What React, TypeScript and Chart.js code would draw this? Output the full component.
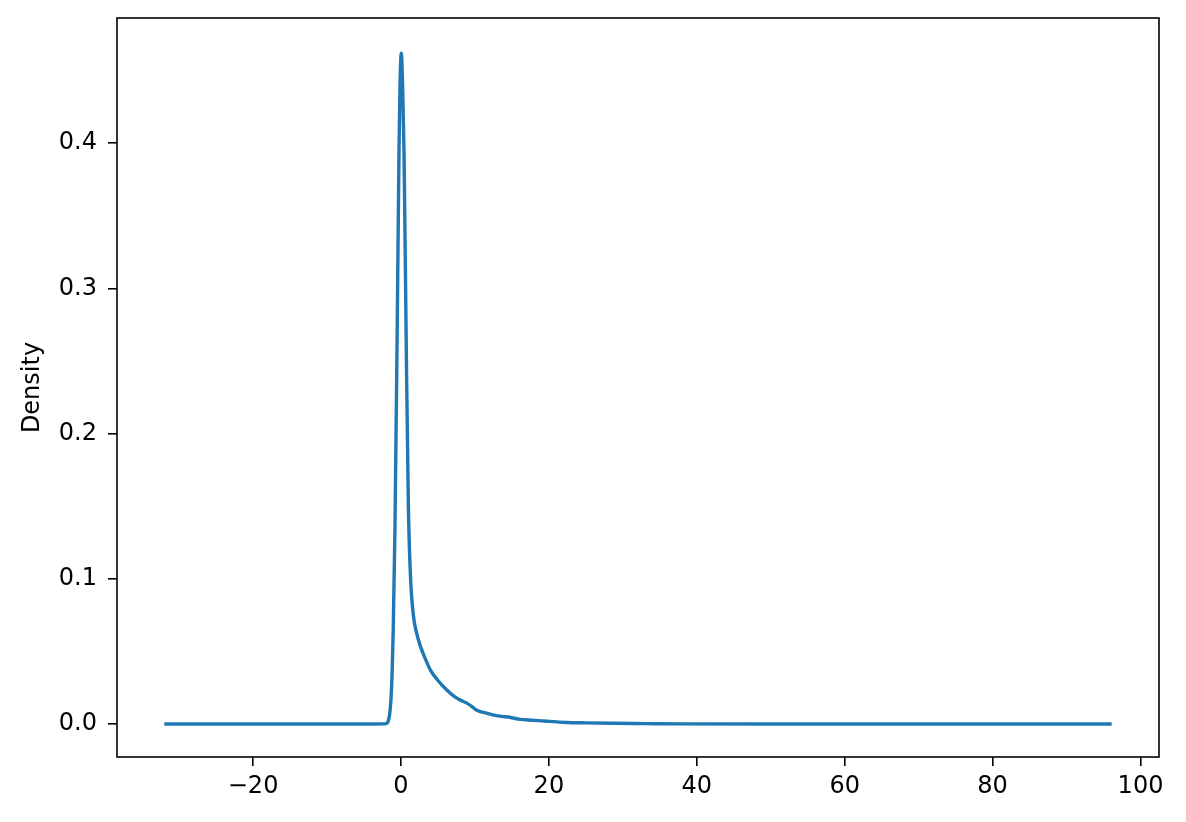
import React, { useEffect, useRef } from "react";
import { Chart, registerables } from "chart.js";

Chart.register(...registerables);

const densityX = [
  -32.0, -10, -4, -2.4, -2.0, -1.77, -1.55, -1.36, -1.2, -1.05, -0.82, -0.54, -0.27, -0.13, 0.04, 0.22,
  0.41, 0.72, 1.0, 1.3, 1.7, 2.1, 2.6, 3.2, 4.0, 5.0, 6.2, 7.2, 8.0, 8.9, 9.6, 10.2, 11.3, 12.4, 13.6,
  14.7, 16.1, 17.8, 19.7, 22.4, 25, 28.6, 33, 38, 50, 70, 96.1,
];
const densityY = [
  0, 0, 0, 0.0001, 0.0004, 0.0014, 0.006, 0.0165, 0.035, 0.0646, 0.133, 0.257, 0.394, 0.44, 0.462, 0.44,
  0.394, 0.257, 0.15, 0.1, 0.074, 0.063, 0.054, 0.046, 0.037, 0.03, 0.0234, 0.019, 0.0165, 0.0144,
  0.012, 0.0096, 0.0078, 0.0063, 0.0053, 0.0047, 0.0032, 0.0026, 0.0019, 0.0011, 0.0008, 0.0005, 0.0003,
  0.0001, 0.00003, 0, 0,
];
const xTicks = [-20, 0, 20, 40, 60, 80, 100];
const yTicks = [0, 0.1, 0.2, 0.3, 0.4];
const yLabel = "Density";

const FONT = "'DejaVu Sans', sans-serif";

export default function App() {
  const ref = useRef<HTMLCanvasElement | null>(null);
  useEffect(() => {
    if (!ref.current) return;
    const spines = {
      id: "spines",
      afterDatasetsDraw(chart: any) {
        const { ctx, chartArea } = chart;
        ctx.save();
        ctx.strokeStyle = "#000";
        ctx.lineWidth = 1.6;
        ctx.strokeRect(chartArea.left, chartArea.top, chartArea.right - chartArea.left, chartArea.bottom - chartArea.top);
        ctx.restore();
      },
    };
    const chart = new Chart(ref.current, {
      type: "line",
      data: {
        datasets: [
          {
            data: densityX.map((x, i) => ({ x, y: densityY[i] })),
            borderColor: "#1f77b4",
            borderWidth: 3.4,
            pointRadius: 0,
            fill: false,
            cubicInterpolationMode: "monotone",
          },
        ],
      },
      options: {
        animation: false,
        responsive: false,
        events: [],
        layout: { padding: { left: 0, top: 18, right: 27, bottom: 0 } },
        plugins: { legend: { display: false }, tooltip: { enabled: false } },
        scales: {
          x: {
            type: "linear",
            min: -38.4,
            max: 102.5,
            afterBuildTicks: (s: any) => {
              s.ticks = xTicks.map((v) => ({ value: v }));
            },
            afterFit: (s: any) => {
              s.height = 65;
              s.paddingLeft = 0;
              s.paddingRight = 0;
            },
            grid: { drawOnChartArea: false, drawTicks: true, tickLength: 9, color: "#000", lineWidth: 1.6 },
            border: { display: false },
            ticks: {
              color: "#000",
              font: { family: FONT, size: 24 },
              padding: 6,
              maxRotation: 0,
              autoSkip: false,
              callback: (v: any) => String(v).replace("-", "\u2212"),
            },
          },
          y: {
            type: "linear",
            min: -0.0227,
            max: 0.4862,
            afterBuildTicks: (s: any) => {
              s.ticks = yTicks.map((v) => ({ value: v }));
            },
            afterFit: (s: any) => {
              s.width = 117;
              s.paddingTop = 0;
              s.paddingBottom = 0;
            },
            grid: { drawOnChartArea: false, drawTicks: true, tickLength: 9, color: "#000", lineWidth: 1.6 },
            border: { display: false },
            title: {
              display: true,
              text: yLabel,
              color: "#000",
              font: { family: FONT, size: 24 },
              padding: { top: 18, bottom: 0 },
            },
            ticks: {
              color: "#000",
              font: { family: FONT, size: 24 },
              padding: 11,
              autoSkip: false,
              callback: (v: any) => Number(v).toFixed(1),
            },
          },
        },
      },
      plugins: [spines],
    } as any);
    return () => chart.destroy();
  }, []);
  return (
    <div style={{ position: "fixed", left: 0, top: 0, width: 1186, height: 822, background: "#fff" }}>
      <canvas ref={ref} width={1186} height={822} style={{ display: "block", width: 1186, height: 822 }} />
    </div>
  );
}
